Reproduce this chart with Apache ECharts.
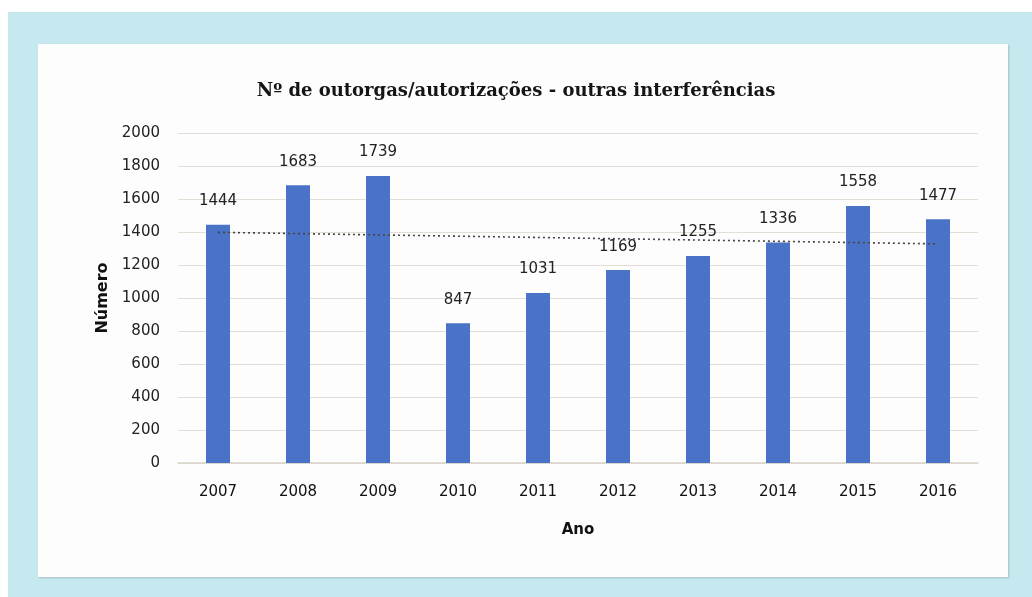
<!DOCTYPE html>
<html>
<head>
<meta charset="utf-8">
<script src="https://cdn.jsdelivr.net/npm/echarts@6/dist/echarts.min.js"></script>
<style>
  html, body { margin: 0; padding: 0; background: #ffffff; }
  #frame { position: absolute; left: 8px; top: 12px; width: 1024px; height: 585px; background: #c6e8ef; }
  #card { position: absolute; left: 38px; top: 44px; width: 970px; height: 533px; background: #fdfdfd;
          box-shadow: 1px 1px 2px rgba(0,0,0,0.18); }
  #chart { position: absolute; left: 0; top: 0; width: 1032px; height: 597px; }
</style>
</head>
<body>
<div id="frame"></div>
<div id="card"></div>
<div id="chart"></div>
<script>
// Anos e número de outorgas/autorizações (outras interferências)
const anos = ['2007', '2008', '2009', '2010', '2011', '2012', '2013', '2014', '2015', '2016'];
const numero = [1444, 1683, 1739, 847, 1031, 1169, 1255, 1336, 1558, 1477];
// Linha de tendência linear: valores nos extremos (2007 e 2016)
const tendencia = [1398, 1328];
const yTicks = [0, 200, 400, 600, 800, 1000, 1200, 1400, 1600, 1800, 2000];

const chart = echarts.init(document.getElementById('chart'), null, { renderer: 'canvas' });
chart.setOption({
  backgroundColor: 'transparent',
  animation: false,
  title: {
    text: 'Nº de outorgas/autorizações - outras interferências',
    left: 'center',
    top: 77,
    textStyle: { fontFamily: 'DejaVu Serif', fontWeight: 'bold', fontSize: 18, color: '#151515' }
  },
  grid: { left: 178, right: 54, top: 133, bottom: 134 },
  xAxis: {
    type: 'category',
    data: anos,
    name: 'Ano',
    nameLocation: 'middle',
    nameGap: 60,
    nameTextStyle: { fontFamily: 'DejaVu Sans', fontWeight: 'bold', fontSize: 15, color: '#111' },
    axisLine: { lineStyle: { color: '#d9d3cc', width: 1.5 } },
    axisTick: { show: false },
    axisLabel: { margin: 22, fontFamily: 'DejaVu Sans', fontSize: 15, color: '#111' }
  },
  yAxis: {
    type: 'value',
    min: yTicks[0],
    max: yTicks[yTicks.length - 1],
    interval: 200,
    name: 'Número',
    nameLocation: 'middle',
    nameGap: 66,
    nameRotate: 90,
    nameTextStyle: { fontFamily: 'DejaVu Sans', fontWeight: 'bold', fontSize: 16, color: '#111' },
    axisLine: { show: false },
    axisTick: { show: false },
    axisLabel: { margin: 18, fontFamily: 'DejaVu Sans', fontSize: 15, color: '#222', formatter: v => String(v) },
    splitLine: { lineStyle: { color: '#e3ddd6', width: 1 } }
  },
  series: [{
    type: 'bar',
    data: numero,
    barWidth: 24,
    itemStyle: { color: '#4a72c6' },
    label: {
      show: true,
      position: 'top',
      distance: 16,
      fontFamily: 'DejaVu Sans',
      fontSize: 15,
      color: '#222'
    },
    markLine: {
      silent: true,
      symbol: ['none', 'none'],
      label: { show: false },
      lineStyle: { type: [2, 3], color: '#444', width: 1.6 },
      data: [[
        { coord: [anos[0], tendencia[0]] },
        { coord: [anos[anos.length - 1], tendencia[1]] }
      ]]
    },
    z: 2
  }]
});
</script>
</body>
</html>
